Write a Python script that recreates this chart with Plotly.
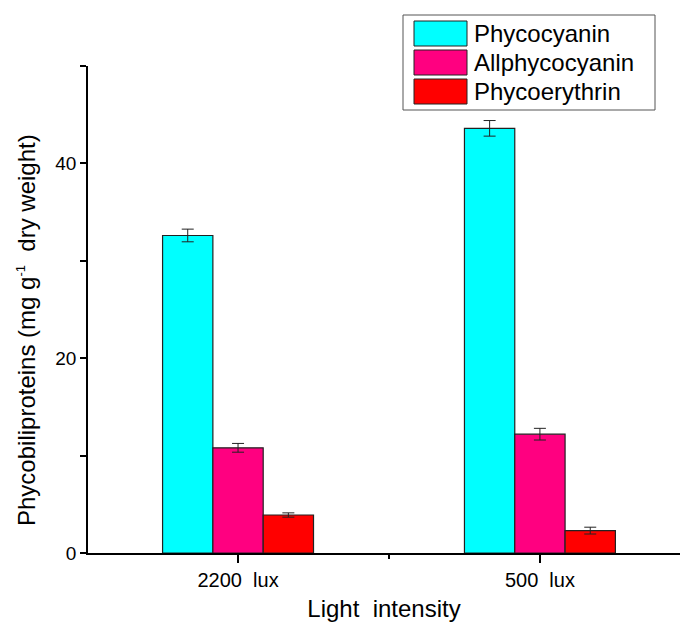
import plotly.graph_objects as go

# Data
categories = ["2200  lux", "500  lux"]
series_names = ["Phycocyanin", "Allphycocyanin", "Phycoerythrin"]
phycocyanin = [32.6, 43.6]
phycocyanin_err = [0.65, 0.8]
allphycocyanin = [10.8, 12.2]
allphycocyanin_err = [0.45, 0.6]
phycoerythrin = [3.9, 2.3]
phycoerythrin_err = [0.22, 0.35]
y_tick_vals = [0, 10, 20, 30, 40, 50]
y_tick_text = ["0", "", "20", "", "40", ""]
y_title = "Phycobiliproteins (mg g<sup><span style='font-size:13px'>-1</span></sup>  dry weight)"

colors = ["#00FFFF", "#FF0080", "#FF0000"]
values = [phycocyanin, allphycocyanin, phycoerythrin]
errors = [phycocyanin_err, allphycocyanin_err, phycoerythrin_err]

W, H = 680, 628
ML, MR, MT, MB = 88, 0, 66, 75
FONT = "Liberation Sans, Arial, sans-serif"

xpos = list(range(len(categories)))

fig = go.Figure()
for name, vals, errs, col in zip(series_names, values, errors, colors):
    fig.add_trace(go.Bar(
        x=xpos, y=vals, name=name,
        marker=dict(color=col, line=dict(color="#222222", width=1.2)),
        error_y=dict(type="data", array=errs, visible=True,
                     color="#222222", thickness=1, width=6),
        showlegend=False,
    ))

# Pixel -> paper helpers for the hand-placed legend and y-axis title
pw, ph = W - ML - MR, H - MT - MB
def px_x(x):
    return (x - ML) / pw
def px_y(y):
    return (H - MB - y) / ph

shapes = [dict(type="rect", xref="paper", yref="paper",
               x0=px_x(403), x1=px_x(655), y0=px_y(110), y1=px_y(15),
               line=dict(color="#555555", width=1), fillcolor="white")]
annotations = []
row_tops = [21, 50, 79]
for name, col, top in zip(series_names, colors, row_tops):
    shapes.append(dict(type="rect", xref="paper", yref="paper",
                       x0=px_x(414), x1=px_x(467), y0=px_y(top + 25), y1=px_y(top),
                       line=dict(color="#222222", width=1), fillcolor=col))
    annotations.append(dict(xref="paper", yref="paper", x=px_x(472), y=px_y(top + 12.5),
                            text=name, showarrow=False, xanchor="left", yanchor="middle",
                            font=dict(family=FONT, size=24, color="black")))

# y-axis title
annotations.append(dict(xref="paper", yref="paper", x=px_x(26), y=px_y(330),
                        text=y_title, textangle=-90, showarrow=False,
                        xanchor="center", yanchor="middle",
                        font=dict(family=FONT, size=24, color="black")))

fig.update_layout(
    width=W, height=H,
    margin=dict(l=ML, r=MR, t=MT, b=MB, pad=0),
    paper_bgcolor="white", plot_bgcolor="white",
    barmode="group", bargap=0.5, bargroupgap=0,
    font=dict(family=FONT, size=19, color="black"),
    shapes=shapes, annotations=annotations,
    xaxis=dict(
        range=[-0.497, 1.464],
        tickmode="array", tickvals=xpos, ticktext=categories,
        ticks="outside", ticklen=8, tickwidth=1.5, tickcolor="black",
        minor=dict(tickmode="array", tickvals=[0.5], ticks="outside",
                   ticklen=4, tickwidth=1.5, tickcolor="black"),
        showline=True, linecolor="black", linewidth=1.5,
        showgrid=False, zeroline=False,
        tickfont=dict(size=20),
        title=dict(text="Light  intensity", font=dict(size=24), standoff=10),
    ),
    yaxis=dict(
        range=[0, 50],
        tickmode="array", tickvals=y_tick_vals, ticktext=y_tick_text,
        ticks="outside", ticklen=6, tickwidth=1.5, tickcolor="black",
        showline=True, linecolor="black", linewidth=1.5,
        showgrid=False, zeroline=False,
        tickfont=dict(size=19),
    ),
)

fig.write_html("out.html")
